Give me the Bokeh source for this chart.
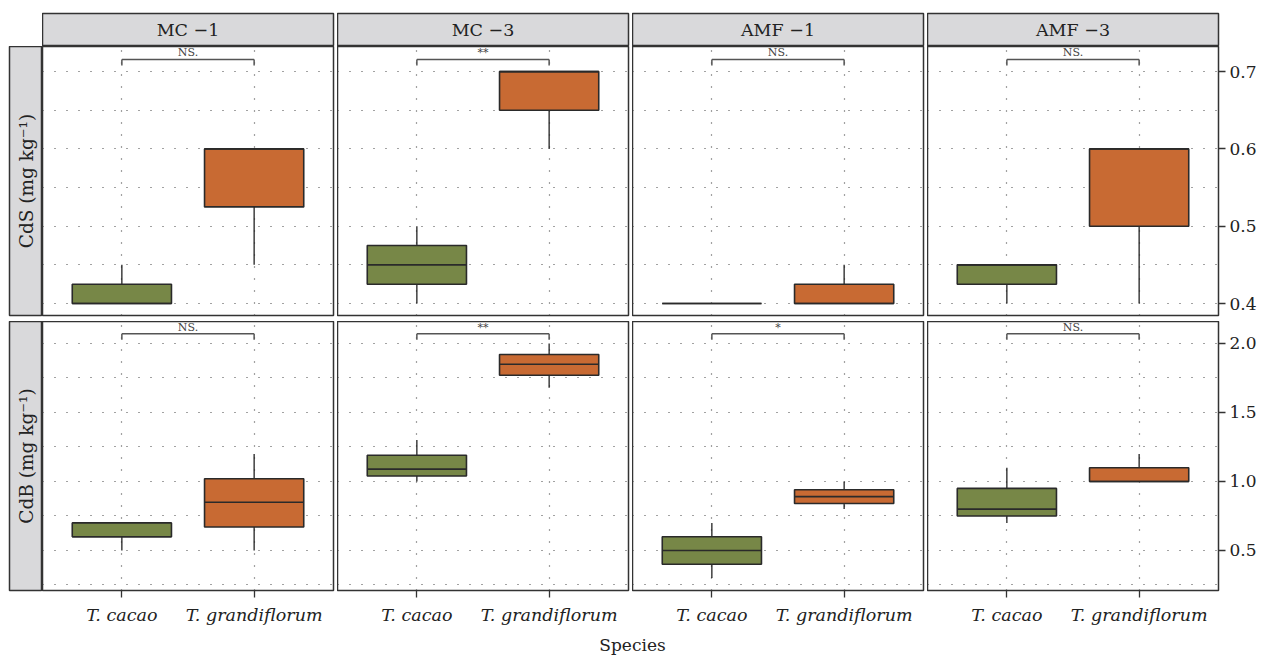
from math import pi
from bokeh.plotting import figure
from bokeh.models import Range1d, FixedTicker, LinearAxis, Spacer, PrintfTickFormatter
from bokeh.layouts import row, column
from bokeh.embed import file_html
from bokeh.resources import INLINE
from bokeh.core.properties import value

# ---------------- data ----------------
treatments = ["MC \u22121", "MC \u22123", "AMF \u22121", "AMF \u22123"]
species = ["T. cacao", "T. grandiflorum"]
row_labels = ["CdS (mg kg\u207b\u00b9)", "CdB (mg kg\u207b\u00b9)"]

# CdS : per treatment -> [T. cacao, T. grandiflorum]
cds_low = [[0.40, 0.45], [0.40, 0.60], [0.40, 0.40], [0.40, 0.40]]
cds_q1 = [[0.40, 0.525], [0.425, 0.65], [0.40, 0.40], [0.425, 0.50]]
cds_med = [[0.40, 0.60], [0.45, 0.70], [0.40, 0.40], [0.45, 0.60]]
cds_q3 = [[0.425, 0.60], [0.475, 0.70], [0.40, 0.425], [0.45, 0.60]]
cds_up = [[0.45, 0.60], [0.50, 0.70], [0.40, 0.45], [0.45, 0.60]]
cds_sig = ["NS.", "**", "NS.", "NS."]
cds_ticks = [0.4, 0.5, 0.6, 0.7]
cds_grid = [0.4, 0.45, 0.5, 0.55, 0.6, 0.65, 0.7]

# CdB
cdb_low = [[0.50, 0.50], [1.00, 1.68], [0.30, 0.80], [0.70, 1.00]]
cdb_q1 = [[0.60, 0.67], [1.04, 1.77], [0.40, 0.84], [0.75, 1.00]]
cdb_med = [[0.60, 0.85], [1.09, 1.85], [0.50, 0.89], [0.80, 1.00]]
cdb_q3 = [[0.70, 1.02], [1.19, 1.92], [0.60, 0.94], [0.95, 1.10]]
cdb_up = [[0.70, 1.20], [1.30, 2.00], [0.70, 1.00], [1.10, 1.20]]
cdb_sig = ["NS.", "**", "*", "NS."]
cdb_ticks = [0.5, 1.0, 1.5, 2.0]
cdb_grid = [0.25, 0.5, 0.75, 1.0, 1.25, 1.5, 1.75, 2.0]

colors = ["#778747", "#C86A33"]

FONT = "DejaVu Serif"
DARK = "#333333"
FW, FH = 291, 269
BOTTOM_AXIS = 44

rows_data = [
    dict(low=cds_low, q1=cds_q1, med=cds_med, q3=cds_q3, up=cds_up, sig=cds_sig,
         ticks=cds_ticks, grid=cds_grid, yr=(0.3845, 0.7325), br=(0.7157, 0.708)),
    dict(low=cdb_low, q1=cdb_q1, med=cdb_med, q3=cdb_q3, up=cdb_up, sig=cdb_sig,
         ticks=cdb_ticks, grid=cdb_grid, yr=(0.2101, 2.1594), br=(2.070, 2.027)),
]


def base_fig(**kw):
    p = figure(output_backend="svg", toolbar_location=None,
               x_axis_location=None, y_axis_location=None, **kw)
    return p


def panel(ri, ci):
    d = rows_data[ri]
    bottom = ri == 1
    right = ci == 3
    p = base_fig(frame_width=FW, frame_height=FH,
                 x_range=Range1d(0.4, 2.6), y_range=Range1d(*d["yr"]),
                 min_border_left=0, min_border_top=0,
                 min_border_right=0 if right else 4,
                 min_border_bottom=BOTTOM_AXIS if bottom else 6)
    p.outline_line_color = DARK
    p.outline_line_width = 1.5
    p.outline_line_alpha = 1
    xs = [i + 1 for i in range(len(species))]
    p.xgrid.ticker = FixedTicker(ticks=xs)
    p.ygrid.ticker = FixedTicker(ticks=d["grid"])
    for g in (p.xgrid, p.ygrid):
        g.grid_line_color = "#444444"
        g.grid_line_dash = "1 11"
        g.grid_line_width = 1.2
        g.grid_line_alpha = 1

    hw = 0.375
    low, q1, med, q3, up = (d[k][ci] for k in ("low", "q1", "med", "q3", "up"))
    # whiskers
    p.segment(x0=xs, x1=xs, y0=q3, y1=up, line_color="#222222", line_width=1.3)
    p.segment(x0=xs, x1=xs, y0=low, y1=q1, line_color="#222222", line_width=1.3)
    # boxes
    p.quad(left=[x - hw for x in xs], right=[x + hw for x in xs], bottom=q1, top=q3,
           fill_color=colors, line_color="#2a2a2a", line_width=1.6)
    p.segment(x0=[x - hw for x in xs], x1=[x + hw for x in xs], y0=med, y1=med,
              line_color="#2a2a2a", line_width=1.6)
    # significance bracket
    by, bl = d["br"]
    p.segment(x0=[xs[0], xs[0], xs[1]], x1=[xs[1], xs[0], xs[1]],
              y0=[by, by, by], y1=[by, bl, bl], line_color="#555555", line_width=1.5)
    p.text(x=[(xs[0] + xs[1]) / 2], y=[by], text=[d["sig"][ci]], text_align="center",
           text_baseline="bottom", y_offset=0, text_font=value(FONT),
           text_font_size="11px", text_color="#444444")

    if right:
        ax = LinearAxis(ticker=FixedTicker(ticks=d["ticks"]),
                        formatter=PrintfTickFormatter(format="%.1f"))
        ax.axis_line_color = None
        ax.major_tick_out = 7
        ax.major_tick_in = 0
        ax.major_tick_line_color = DARK
        ax.major_tick_line_width = 1.3
        ax.minor_tick_line_color = None
        ax.major_label_standoff = 4
        ax.major_label_text_font = FONT
        ax.major_label_text_font_size = "17px"
        ax.major_label_text_color = "#222222"
        p.add_layout(ax, "right")
    if bottom:
        ax = LinearAxis(ticker=FixedTicker(ticks=xs),
                        major_label_overrides={x: s for x, s in zip(xs, species)})
        ax.axis_line_color = None
        ax.major_tick_out = 7
        ax.major_tick_in = 0
        ax.major_tick_line_color = DARK
        ax.major_tick_line_width = 1.3
        ax.minor_tick_line_color = None
        ax.major_label_standoff = 7
        ax.major_label_text_font = FONT
        ax.major_label_text_font_style = "italic"
        ax.major_label_text_font_size = "17.5px"
        ax.major_label_text_color = "#222222"
        p.add_layout(ax, "below")
    return p


def header(ci):
    p = base_fig(frame_width=FW, frame_height=33, x_range=Range1d(0, 1), y_range=Range1d(0, 1),
                 min_border_left=0, min_border_top=13, min_border_bottom=0,
                 min_border_right=4)
    p.grid.visible = False
    p.background_fill_color = "#D9D9DB"
    p.outline_line_color = DARK
    p.outline_line_width = 1.5
    p.text(x=[0.5], y=[0.5], text=[treatments[ci]], text_align="center",
           text_baseline="middle", text_font=value(FONT), text_font_size="17.5px",
           text_color="#222222")
    return p


def side(ri):
    p = base_fig(frame_width=33, frame_height=FH, x_range=Range1d(0, 1), y_range=Range1d(0, 1),
                 min_border_left=9, min_border_top=0, min_border_right=0,
                 min_border_bottom=BOTTOM_AXIS if ri == 1 else 6)
    p.grid.visible = False
    p.background_fill_color = "#D9D9DB"
    p.outline_line_color = DARK
    p.outline_line_width = 1.5
    p.text(x=[0.5], y=[0.5], text=[row_labels[ri]], angle=pi / 2, text_align="center",
           text_baseline="middle", text_font=value(FONT), text_font_size="18.5px",
           text_color="#222222")
    return p


hdr = row([Spacer(width=42, height=46)] + [header(c) for c in range(4)])
r1 = row([side(0)] + [panel(0, c) for c in range(4)])
r2 = row([side(1)] + [panel(1, c) for c in range(4)])

sp = base_fig(frame_width=1248, frame_height=21, x_range=Range1d(0, 1), y_range=Range1d(0, 1),
              min_border_left=8, min_border_top=0, min_border_right=0, min_border_bottom=0)
sp.grid.visible = False
sp.outline_line_color = None
sp.text(x=[0.5], y=[0.0], text=["Species"], text_align="center", text_baseline="bottom",
        y_offset=-1, text_font=value(FONT), text_font_size="17px", text_color="#222222")

layout = column(hdr, r1, r2, sp)

open("out.html", "w").write(file_html(layout, INLINE))
